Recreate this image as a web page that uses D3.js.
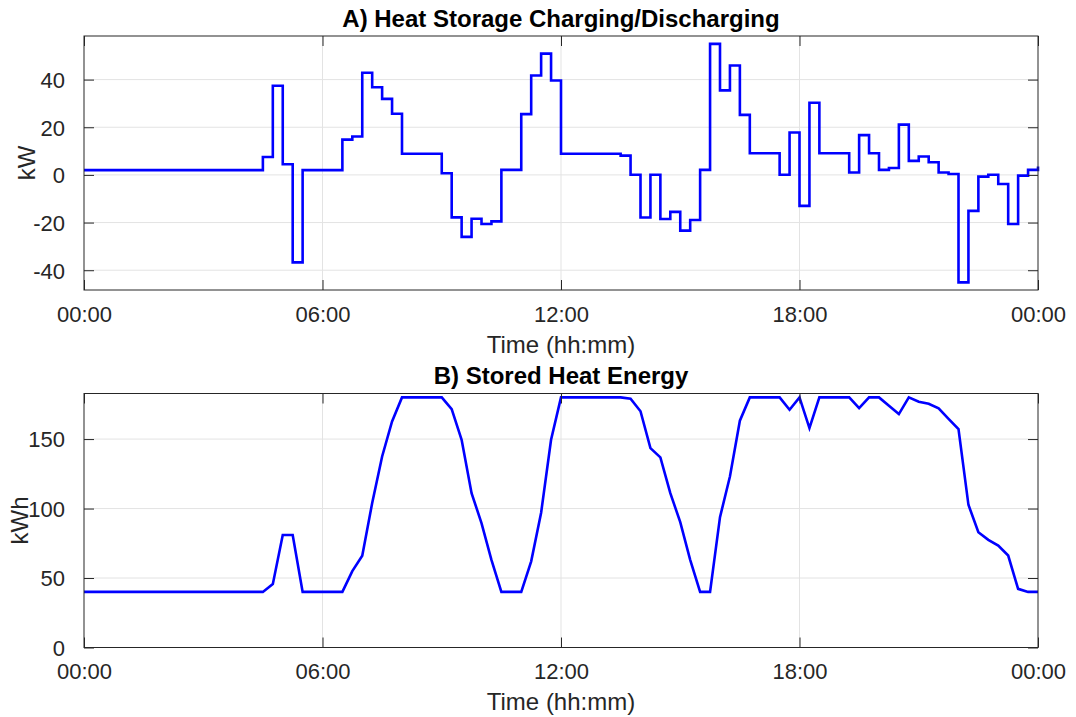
<!DOCTYPE html>
<html>
<head>
<meta charset="utf-8">
<script src="https://cdn.jsdelivr.net/npm/d3@7"></script>
<style>
  html, body { margin: 0; padding: 0; background: #ffffff; }
  svg { display: block; }
  text { font-family: "Liberation Sans", Arial, Helvetica, sans-serif; }
</style>
</head>
<body>
<svg id="chart" width="1076" height="717"></svg>
<script>
// Time axis: quarter-hour steps over one day (hours)
const timeHours = d3.range(0, 24.001, 0.25);

// Heat storage charging (+) / discharging (-) power per quarter hour, kW
const powerKW = [
  2, 2, 2, 2, 2, 2, 2, 2, 2, 2, 2, 2, 2, 2, 2, 2, 2, 2,          // 00:00-04:15
  7.5, 37.4, 4.5, -36.7,                                          // 04:30-05:15
  2, 2, 2, 2,                                                     // 05:30-06:15
  14.8, 16.1, 42.9, 36.8, 31.9, 25.7,                             // 06:30-07:45
  8.9, 8.9, 8.9, 8.9,                                             // 08:00-08:45
  0.7, -17.8, -26.0, -18.4, -20.6, -19.5,                         // 09:00-10:15
  2.1, 2.1, 25.5, 41.7, 50.9, 39.6,                               // 10:30-11:45
  8.9, 8.9, 8.9, 8.9, 8.9, 8.9, 8.1,                              // 12:00-13:30
  0.1, -17.9, 0.1, -18.5, -15.5, -23.4, -18.9,                    // 13:45-15:15
  2.1, 55.0, 35.5, 45.9, 25.2,                                    // 15:30-16:30
  9.1, 9.1, 9.1, 0.1, 17.8, -13.0, 30.3,                          // 16:45-18:15
  9.1, 9.1, 9.1, 1.0, 16.7, 9.1,                                  // 18:30-19:45
  2.1, 2.9, 21.1, 5.9, 7.7, 5.3, 1.0, 0.4,                        // 20:00-21:45
  -45.1, -15.1, -0.7, 0.1, -3.8, -20.6, -0.3, 2.1,                // 22:00-23:45
  3.5                                                             // 24:00
];

// Stored heat energy at each quarter-hour mark, kWh
const storedKWh = [
  40, 40, 40, 40, 40, 40, 40, 40, 40, 40, 40, 40, 40, 40, 40, 40, 40, 40, 40, // 00:00-04:30
  45.6, 81, 81, 40,                                               // 04:45-05:30
  40, 40, 40, 40,                                                 // 05:45-06:30
  55, 66, 104, 137.5, 162.7, 180,                                 // 06:45-08:00
  180, 180, 180, 180,                                             // 08:15-09:00
  171.6, 149.5, 111.1, 89.5, 63, 40,                              // 09:15-10:30
  40, 40, 62, 97, 149.5, 180,                                     // 10:45-12:00
  180, 180, 180, 180, 180, 180,                                   // 12:15-13:30
  179, 170, 143.5, 136.8, 111.1, 90.2, 63.1, 40,                  // 13:45-15:30
  40, 93.8, 123.1, 163.2, 180,                                    // 15:45-16:45
  180, 180, 180, 171.1, 180, 157.9, 180,                          // 17:00-18:30
  180, 180, 180, 172.3, 180,                                      // 18:45-19:45
  180, 174, 168, 180, 176.9, 175.4, 172.1, 164.6,                 // 20:00-21:45
  157.2, 102.7, 83, 77.5, 73.4, 66.2, 42.2, 40,                   // 22:00-23:45
  40                                                              // 24:00
];

// Axis ticks
const xTicks = [0, 6, 12, 18, 24];
const xTickLabels = ["00:00", "06:00", "12:00", "18:00", "00:00"];
const powerTicks = [-40, -20, 0, 20, 40];
const energyTicks = [0, 50, 100, 150];

const svg = d3.select("#chart");
svg.append("rect").attr("width", 1076).attr("height", 717).attr("fill", "#ffffff");

const axisColor = "#262626";
const gridColor = "#e3e3e3";
const lineColor = "#0000ff";
const tickLen = 10;

function drawPanel(opts) {
  const { left, right, top, bottom, yDomain, yTicks, values, curve,
          title, yLabel, yLabelX } = opts;

  const x = d3.scaleLinear().domain([0, 24]).range([left, right]);
  const y = d3.scaleLinear().domain(yDomain).range([bottom, top]);
  const g = svg.append("g");

  // grid
  const grid = g.append("g");
  xTicks.slice(1, -1).forEach(t => {
    grid.append("line")
      .attr("x1", x(t)).attr("x2", x(t)).attr("y1", top).attr("y2", bottom)
      .attr("stroke", gridColor).attr("stroke-width", 1);
  });
  yTicks.forEach(v => {
    if (y(v) <= top + 0.5 || y(v) >= bottom - 0.5) return;
    grid.append("line")
      .attr("x1", left).attr("x2", right).attr("y1", y(v)).attr("y2", y(v))
      .attr("stroke", gridColor).attr("stroke-width", 1);
  });

  // data line
  const line = d3.line()
    .x((d, i) => x(timeHours[i]))
    .y(d => y(d))
    .curve(curve);
  g.append("path")
    .datum(values)
    .attr("d", line)
    .attr("fill", "none")
    .attr("stroke", lineColor)
    .attr("stroke-width", 2.6)
    .attr("stroke-linejoin", "miter");

  // axes via d3 axis generators (ticks drawn inward)
  const xAxisBottom = d3.axisBottom(x).tickValues(xTicks)
    .tickFormat((d, i) => xTickLabels[i]).tickSizeInner(-tickLen).tickSizeOuter(0).tickPadding(31.5);
  const xAxisTop = d3.axisTop(x).tickValues(xTicks)
    .tickFormat("").tickSizeInner(-tickLen).tickSizeOuter(0);
  const yAxisLeft = d3.axisLeft(y).tickValues(yTicks)
    .tickFormat(d => String(d))
    .tickSizeInner(-tickLen).tickSizeOuter(0).tickPadding(19);
  const yAxisRight = d3.axisRight(y).tickValues(yTicks)
    .tickFormat("").tickSizeInner(-tickLen).tickSizeOuter(0);

  const styleAxis = sel => {
    sel.select(".domain").remove();
    sel.selectAll(".tick line").attr("stroke", axisColor).attr("stroke-width", 1);
    sel.selectAll(".tick text")
      .attr("fill", axisColor)
      .style("font-size", "22px")
      .style("font-family", '"Liberation Sans", Arial, sans-serif');
  };

  g.append("g").attr("transform", `translate(0,${bottom})`).call(xAxisBottom).call(styleAxis)
    .selectAll(".tick text").attr("dy", "0");
  g.append("g").attr("transform", `translate(0,${top})`).call(xAxisTop).call(styleAxis);
  g.append("g").attr("transform", `translate(${left},0)`).call(yAxisLeft).call(styleAxis)
    .selectAll(".tick text").attr("dy", "0.36em");
  g.append("g").attr("transform", `translate(${right},0)`).call(yAxisRight).call(styleAxis);

  // box
  g.append("rect")
    .attr("x", left).attr("y", top)
    .attr("width", right - left).attr("height", bottom - top)
    .attr("fill", "none").attr("stroke", axisColor).attr("stroke-width", 1);

  // title
  g.append("text")
    .attr("x", (left + right) / 2).attr("y", top - 9.5)
    .attr("text-anchor", "middle")
    .attr("fill", "#000000")
    .style("font-size", "24px").style("font-weight", "bold")
    .text(title);

  // x label
  g.append("text")
    .attr("x", (left + right) / 2).attr("y", bottom + 62.5)
    .attr("text-anchor", "middle")
    .attr("fill", axisColor)
    .style("font-size", "24px")
    .text("Time (hh:mm)");

  // y label
  g.append("text")
    .attr("transform", `translate(${yLabelX},${(top + bottom) / 2}) rotate(-90)`)
    .attr("text-anchor", "middle")
    .attr("fill", axisColor)
    .style("font-size", "24px")
    .text(yLabel);
}

drawPanel({
  left: 84, right: 1038, top: 36, bottom: 290,
  yDomain: [-48.3, 58.3], yTicks: powerTicks,
  values: powerKW, curve: d3.curveStepAfter,
  title: "A) Heat Storage Charging/Discharging",
  yLabel: "kW", yLabelX: 34.5
});

drawPanel({
  left: 84, right: 1038, top: 393.5, bottom: 647.5,
  yDomain: [0, 182.8], yTicks: energyTicks,
  values: storedKWh, curve: d3.curveLinear,
  title: "B) Stored Heat Energy",
  yLabel: "kWh", yLabelX: 28
});
</script>
</body>
</html>
